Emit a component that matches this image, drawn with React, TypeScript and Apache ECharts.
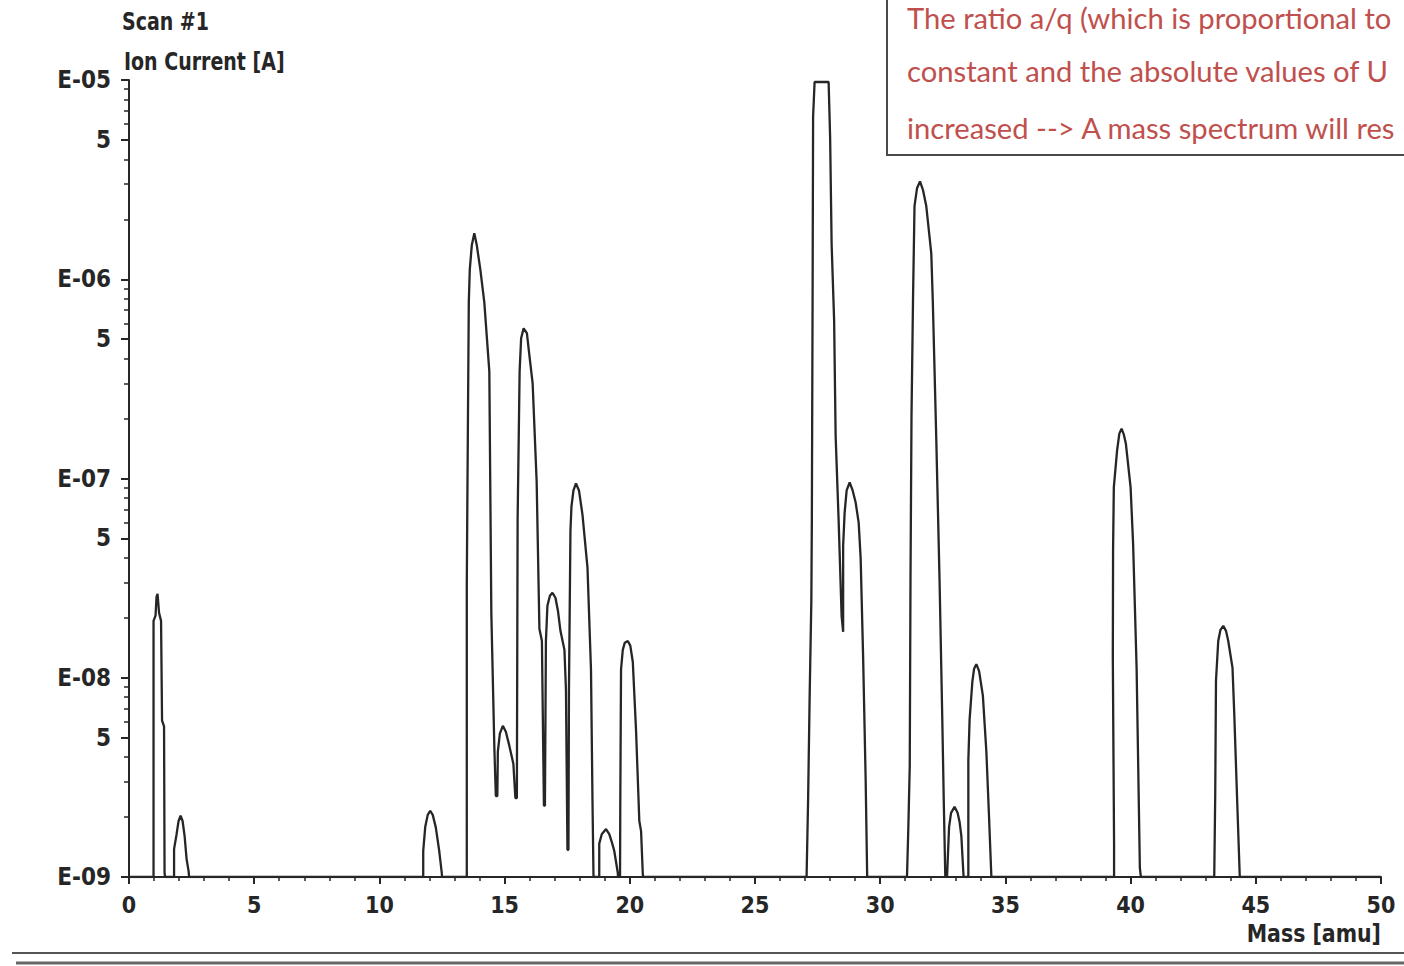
import React, { useEffect, useRef } from 'react';
import * as echarts from 'echarts';

// ---- data (mass in amu, ion current in A) ----
const BASE = 1e-9;
const massRange = [0, 50];
const decadeLabels = ['E-09', 'E-08', 'E-07', 'E-06', 'E-05'];
const decades = [-9, -8, -7, -6, -5];

const peakM1 = [[0.98, 1e-9], [0.98, 1.93e-8], [1.06, 2.05e-8], [1.10, 2.55e-8], [1.14, 2.64e-8], [1.20, 2.12e-8], [1.28, 1.93e-8], [1.32, 6.1e-9], [1.40, 5.7e-9], [1.42, 1.05e-9], [1.44, 1e-9]];
const peakM2 = [[1.80, 1e-9], [1.80, 1.38e-9], [1.90, 1.64e-9], [1.98, 1.91e-9], [2.06, 2.03e-9], [2.14, 1.91e-9], [2.22, 1.61e-9], [2.30, 1.23e-9], [2.38, 1.07e-9], [2.40, 1e-9]];
const peakM12 = [[11.75, 1e-9], [11.75, 1.35e-9], [11.83, 1.78e-9], [11.93, 2.05e-9], [12.03, 2.15e-9], [12.13, 2.05e-9], [12.25, 1.78e-9], [12.39, 1.35e-9], [12.49, 1.05e-9], [12.50, 1e-9]];
const peaksM14to18 = [
  [13.49, 1e-9], [13.49, 2.96e-8], [13.53, 1.55e-7], [13.57, 7.66e-7], [13.61, 1.12e-6], [13.69, 1.48e-6], [13.79, 1.70e-6], [13.89, 1.48e-6], [14.03, 1.12e-6], [14.19, 7.66e-7], [14.39, 3.45e-7], [14.47, 2.12e-8], [14.59, 4.5e-9], [14.65, 2.55e-9],
  [14.71, 2.55e-9], [14.73, 4.25e-9], [14.81, 5.24e-9], [14.93, 5.74e-9], [15.05, 5.36e-9], [15.19, 4.55e-9], [15.35, 3.70e-9], [15.43, 2.49e-9],
  [15.49, 2.49e-9], [15.52, 6.3e-8], [15.60, 3.45e-7], [15.66, 5.06e-7], [15.76, 5.67e-7], [15.89, 5.36e-7], [15.99, 4.15e-7], [16.12, 3.0e-7], [16.28, 9.66e-8], [16.39, 1.76e-8], [16.49, 1.53e-8], [16.57, 2.28e-9],
  [16.61, 2.28e-9], [16.65, 1.53e-8], [16.71, 2.30e-8], [16.81, 2.58e-8], [16.91, 2.67e-8], [17.03, 2.52e-8], [17.13, 2.17e-8], [17.23, 1.72e-8], [17.39, 1.38e-8], [17.45, 8.71e-9], [17.51, 1.37e-9],
  [17.55, 1.37e-9], [17.57, 8.71e-9], [17.63, 5.48e-8], [17.67, 7.23e-8], [17.75, 8.71e-8], [17.85, 9.44e-8], [17.97, 8.71e-8], [18.11, 6.59e-8], [18.31, 3.57e-8], [18.45, 1.10e-8], [18.51, 2.41e-9], [18.55, 1e-9],
];
const peakM19 = [[18.78, 1e-9], [18.78, 1.47e-9], [18.88, 1.64e-9], [19.05, 1.74e-9], [19.18, 1.64e-9], [19.30, 1.47e-9], [19.38, 1.35e-9], [19.52, 1.05e-9], [19.53, 1e-9]];
const peakM20 = [[19.61, 1e-9], [19.62, 2.33e-9], [19.65, 1.10e-8], [19.72, 1.38e-8], [19.80, 1.50e-8], [19.92, 1.53e-8], [20.02, 1.45e-8], [20.12, 1.20e-8], [20.25, 5.42e-9], [20.38, 1.91e-9], [20.45, 1.70e-9], [20.52, 1.03e-9], [20.53, 1e-9]];
const peaksM28to29 = [
  [27.06, 1e-9], [27.12, 2.41e-9], [27.18, 7.66e-9], [27.25, 2.44e-8], [27.27, 6.15e-8], [27.30, 7.83e-7], [27.32, 6.52e-6], [27.38, 9.77e-6], [27.94, 9.77e-6], [28.00, 5.18e-6], [28.06, 1.50e-6], [28.16, 6.22e-7], [28.22, 1.64e-7], [28.34, 6.15e-8], [28.46, 2.03e-8], [28.52, 1.70e-8],
  [28.52, 4.60e-8], [28.58, 6.75e-8], [28.66, 8.71e-8], [28.78, 9.55e-8], [28.90, 8.71e-8], [29.02, 7.57e-8], [29.14, 6.01e-8], [29.22, 3.96e-8], [29.32, 1.24e-8], [29.42, 3.03e-9], [29.48, 1e-9],
];
const peakM32 = [[31.07, 1e-9], [31.12, 1.70e-9], [31.18, 3.61e-9], [31.21, 3.10e-8], [31.25, 2.05e-7], [31.31, 7.83e-7], [31.37, 2.33e-6], [31.47, 2.86e-6], [31.59, 3.10e-6], [31.71, 2.80e-6], [31.84, 2.33e-6], [32.04, 1.35e-6], [32.10, 7.83e-7], [32.24, 1.57e-7], [32.37, 3.10e-8], [32.48, 6.15e-9], [32.54, 2.36e-9], [32.60, 1e-9]];
const peakM33 = [[32.67, 1e-9], [32.75, 1.78e-9], [32.83, 2.10e-9], [32.97, 2.25e-9], [33.09, 2.10e-9], [33.17, 1.89e-9], [33.24, 1.61e-9], [33.33, 1e-9]];
const peakM34 = [[33.52, 1e-9], [33.52, 3.83e-9], [33.57, 6.15e-9], [33.68, 9.55e-9], [33.75, 1.11e-8], [33.84, 1.17e-8], [33.95, 1.08e-8], [34.10, 8.13e-9], [34.24, 4.25e-9], [34.34, 2.10e-9], [34.44, 1e-9]];
const peakM40 = [[39.34, 1e-9], [39.34, 1.45e-9], [39.29, 1.26e-8], [39.30, 4.35e-8], [39.33, 9.02e-8], [39.46, 1.38e-7], [39.55, 1.68e-7], [39.64, 1.78e-7], [39.73, 1.66e-7], [39.81, 1.50e-7], [40.00, 9.02e-8], [40.10, 4.71e-8], [40.24, 1.12e-8], [40.37, 1.11e-9], [40.41, 1e-9]];
const peakM44 = [[43.34, 1e-9], [43.38, 2.61e-9], [43.41, 9.66e-9], [43.50, 1.53e-8], [43.59, 1.74e-8], [43.70, 1.82e-8], [43.81, 1.72e-8], [43.90, 1.53e-8], [44.07, 1.12e-8], [44.14, 6.59e-9], [44.26, 2.33e-9], [44.36, 1e-9]];

const noteLines = [
  'The ratio a/q (which is proportional to',
  'constant and the absolute values of U',
  'increased --> A mass spectrum will res',
];
const noteLineY = [17, 70, 127];

const LABEL_FONT = "'DejaVu Sans Condensed', 'DejaVu Sans', sans-serif";
const INK = '#262626';

export default function App() {
  const ref = useRef<HTMLDivElement>(null);
  useEffect(() => {
    document.body.style.margin = '0';
    const chart = echarts.init(ref.current!, null, { renderer: 'svg' });

    const trace = [
      [massRange[0], BASE],
      ...peakM1, ...peakM2, ...peakM12, ...peaksM14to18, ...peakM19, ...peakM20,
      ...peaksM28to29, ...peakM32, ...peakM33, ...peakM34, ...peakM40, ...peakM44,
      [massRange[1], BASE],
    ].map(([m, i]) => [m, Math.log10(i)]);

    const majorY: number[] = [];
    const minorY: number[] = [];
    decades.forEach((d, k) => {
      majorY.push(d);
      if (k < decades.length - 1) {
        majorY.push(d + Math.log10(5));
        [2, 3, 4, 6, 7, 8, 9].forEach((j) => minorY.push(d + Math.log10(j)));
      }
    });

    const yFmt = (v: number) => {
      const r = Math.round(v);
      if (Math.abs(v - r) < 1e-6) return decadeLabels[decades.indexOf(r)] ?? '';
      return '5';
    };

    chart.setOption({
      animation: false,
      backgroundColor: '#ffffff',
      grid: { left: 129, right: 23, top: 80, bottom: 89 },
      xAxis: {
        type: 'value',
        min: massRange[0],
        max: massRange[1],
        interval: 5,
        axisLine: { show: true, lineStyle: { color: INK, width: 2 } },
        axisTick: { show: true, inside: false, length: 7, lineStyle: { color: INK, width: 2 } },
        minorTick: { show: true, splitNumber: 5, length: 4, lineStyle: { color: INK, width: 1.5 } },
        splitLine: { show: false },
        axisLabel: { color: INK, fontFamily: LABEL_FONT, fontWeight: 'bold', fontSize: 23, margin: 16 },
      },
      yAxis: [
        {
          type: 'value',
          min: -9,
          max: -5,
          position: 'left',
          axisLine: { show: true, lineStyle: { color: INK, width: 2 } },
          axisTick: { show: true, inside: false, length: 8, customValues: majorY, lineStyle: { color: INK, width: 2 } },
          splitLine: { show: false },
          axisLabel: {
            customValues: majorY,
            formatter: yFmt,
            color: INK, fontFamily: LABEL_FONT, fontWeight: 'bold', fontSize: 24, margin: 18,
          },
        },
        {
          type: 'value',
          min: -9,
          max: -5,
          position: 'left',
          offset: 0,
          axisLine: { show: false },
          axisTick: { show: true, inside: false, length: 5, customValues: minorY, lineStyle: { color: INK, width: 1.5 } },
          splitLine: { show: false },
          axisLabel: { show: false },
        },
      ],
      series: [
        {
          type: 'line',
          data: trace,
          yAxisIndex: 0,
          showSymbol: false,
          smooth: false,
          lineStyle: { color: INK, width: 2.3 },
          z: 3,
        },
      ],
      graphic: [
        { type: 'text', x: 122, y: 22, scaleX: 0.88, style: { text: 'Scan #1', fill: INK, font: `bold 24px ${LABEL_FONT}`, align: 'left', verticalAlign: 'middle' } },
        { type: 'text', x: 124, y: 62, scaleX: 0.88, style: { text: 'Ion Current [A]', fill: INK, font: `bold 24px ${LABEL_FONT}`, align: 'left', verticalAlign: 'middle' } },
        { type: 'text', x: 1381, y: 934, scaleX: 0.95, style: { text: 'Mass [amu]', fill: INK, font: `bold 24px ${LABEL_FONT}`, align: 'right', verticalAlign: 'middle' } },
        {
          type: 'rect', z: 10,
          shape: { x: 887, y: -4, width: 540, height: 159 },
          style: { fill: '#ffffff', stroke: '#4a4a4a', lineWidth: 2 },
        },
        ...noteLines.map((t, i) => ({
          type: 'text', z: 11,
          x: 907, y: noteLineY[i],
          style: {
            text: t, fill: '#c0504d', font: "29.2px Lato, 'Open Sans', sans-serif",
            align: 'left', verticalAlign: 'middle',
          },
        })),
        { type: 'line', shape: { x1: 12, y1: 953, x2: 1404, y2: 953 }, style: { stroke: '#555', lineWidth: 2 } },
        { type: 'line', shape: { x1: 16, y1: 963, x2: 1404, y2: 963 }, style: { stroke: '#666', lineWidth: 3 } },
      ],
    });
    return () => chart.dispose();
  }, []);
  return <div ref={ref} style={{ width: 1404, height: 966 }} />;
}
